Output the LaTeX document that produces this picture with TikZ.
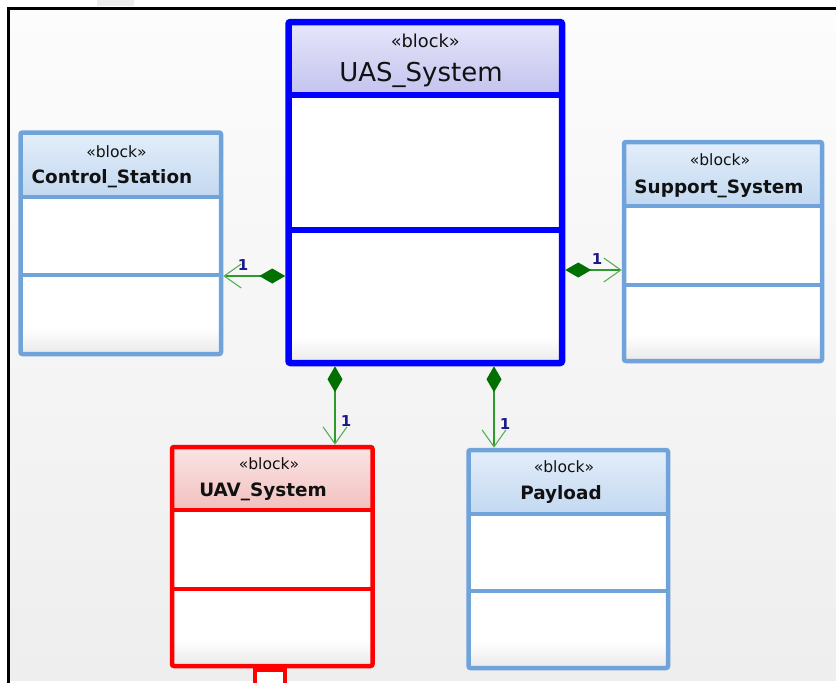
\documentclass[tikz,border=0pt]{standalone}
\usepackage{fontspec}
\setmainfont{DejaVu Sans}
\usetikzlibrary{arrows.meta}

\definecolor{bgtop}{HTML}{FCFCFC}
\definecolor{bgbot}{HTML}{EEEEEE}
\definecolor{sysblue}{HTML}{0000FF}
\definecolor{partblue}{HTML}{6FA3DA}
\definecolor{partred}{HTML}{FF0000}
\definecolor{hdrblueT}{HTML}{E3EEFA}
\definecolor{hdrblueB}{HTML}{C2D8F0}
\definecolor{hdrlavT}{HTML}{E6E6FA}
\definecolor{hdrlavB}{HTML}{C3C3EE}
\definecolor{hdrredT}{HTML}{FBE4E4}
\definecolor{hdrredB}{HTML}{F2C0C0}
\definecolor{compfade}{HTML}{E9E9E9}
\definecolor{compgreen}{HTML}{2E9A2E}
\definecolor{diagreen}{HTML}{007000}
\definecolor{barbgreen}{HTML}{55B055}
\definecolor{multblue}{HTML}{1A1A8A}
\definecolor{ink}{HTML}{111111}

% Block with a header and two compartments:
% #1 name, #2..#5 border box (x1,y1,x2,y2), #6 header line, #7 compartment line,
% #8 border style, #9 header colour prefix
\newcommand\umlblock[9]{%
  \shade[top color=#9T, bottom color=#9B] (#2,#3) rectangle (#4,#6);
  \fill[white] (#2,#6) rectangle (#4,#5);
  \shade[top color=white, bottom color=compfade] (#2,{#5-26}) rectangle (#4,#5);
  \draw[#8] (#2,#6) -- (#4,#6) (#2,#7) -- (#4,#7);
  \node[#8, draw, rounded corners=2pt, inner sep=0pt,
        minimum width={(#4-#2)*1pt}, minimum height={(#5-#3)*1pt}]
        (#1) at ({(#2+#4)/2},{(#3+#5)/2}) {};
}

\tikzset{
  sysframe/.style={draw=sysblue, line width=6.5pt},
  bluepart/.style={draw=partblue, line width=4.5pt},
  redpart/.style={draw=partred, line width=4.5pt},
  stereo/.style={anchor=base, inner sep=0pt, text=ink, font=\fontsize{15.6}{17}\selectfont},
  bigstereo/.style={anchor=base, inner sep=0pt, text=ink, font=\fontsize{17.8}{19}\selectfont},
  partname/.style={anchor=base, inner sep=0pt, text=ink, font=\bfseries\fontsize{18.4}{21}\selectfont},
  sysname/.style={anchor=base, inner sep=0pt, text=ink, font=\fontsize{26}{29}\selectfont},
  composition/.style={draw=compgreen, line width=1.6pt,
    {Diamond[length=26pt,width=15pt,color=diagreen,fill=diagreen]}-{Straight Barb[length=17pt,width=24pt,line width=1.1pt,color=barbgreen]}},
  mult/.style={inner sep=0pt, text=multblue, font=\bfseries\fontsize{15}{16}\selectfont},
}

\begin{document}
\begin{tikzpicture}[x=1pt,y=-1pt]
\useasboundingbox (0,0) rectangle (836,683);

% canvas
\fill[white] (0,0) rectangle (836,683);
\fill[black!7] (97,0) rectangle (134,6);
\shade[top color=bgtop, bottom color=bgbot] (8,8) rectangle (836,680);
\draw[line width=3pt, black] (8,683) -- (8,8) -- (836,8);

% blocks
\umlblock{uas}{288.5}{22}{562}{363}{95}{230}{sysframe}{hdrlav}
\umlblock{cs}{20.5}{132.5}{221}{354}{197}{275}{bluepart}{hdrblue}
\umlblock{ss}{624}{142}{822}{361}{206}{285}{bluepart}{hdrblue}
\umlblock{uav}{172}{447}{372.5}{666}{510}{589}{redpart}{hdrred}
\umlblock{pl}{468.5}{450}{668}{668}{514}{591}{bluepart}{hdrblue}

% port on the lower edge of UAV_System
\node[redpart, fill=white, inner sep=0pt, minimum width=30pt, minimum height=40pt,
      anchor=north] (port) at (270,667) {};

% titles
\node[bigstereo] (uas-st) at (425.3,47) {«block»};
\node[sysname]   (uas-nm) at (421,81) {UAS\_System};
\node[stereo]    (cs-st)  at (116.5,157) {«block»};
\node[partname]  (cs-nm)  at (112,183) {Control\_Station};
\node[stereo]    (ss-st)  at (720,165) {«block»};
\node[partname]  (ss-nm)  at (719,193) {Support\_System};
\node[stereo]    (uav-st) at (269,469) {«block»};
\node[partname]  (uav-nm) at (263,496) {UAV\_System};
\node[stereo]    (pl-st)  at (564,472) {«block»};
\node[partname]  (pl-nm)  at (561,499) {Payload};

% connector levels
\coordinate (lvl-cs)  at (0,276);
\coordinate (lvl-ss)  at (0,270);
\coordinate (lvl-uav) at (335,0);
\coordinate (lvl-pl)  at (494,0);

% part associations
\draw[composition] (uas.west |- lvl-cs) -- (cs.east |- lvl-cs);
\draw[composition] (uas.east |- lvl-ss) -- (ss.west |- lvl-ss);
\draw[composition] (lvl-uav |- uas.south) -- (lvl-uav |- uav.north);
\draw[composition] (lvl-pl |- uas.south) -- (lvl-pl |- pl.north);

% multiplicities
\node[mult] (m-cs)  at (243,265) {1};
\node[mult] (m-ss)  at (597,259) {1};
\node[mult] (m-uav) at (346,421) {1};
\node[mult] (m-pl)  at (505,424) {1};
\end{tikzpicture}
\end{document}
